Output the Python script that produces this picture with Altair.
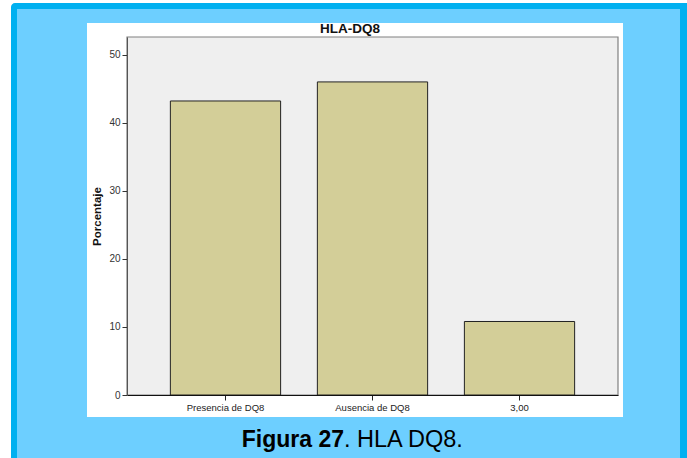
import altair as alt
import pandas as pd

# Porcentaje por grupo HLA-DQ8
categorias = ["Presencia de DQ8", "Ausencia de DQ8", "3,00"]
porcentajes = [43.2, 46.0, 10.8]
ticks_y = [0, 10, 20, 30, 40, 50]

df = pd.DataFrame({"grupo": categorias, "porcentaje": porcentajes})

W, H = 491, 358
LEFT, TOP = 127, 37
FONT = "Liberation Sans"

one = pd.DataFrame({"k": [0]})

def box(x, x2, y, y2, **kw):
    return alt.Chart(one).mark_rect(**kw).encode(
        x=alt.value(x), x2=alt.value(x2), y=alt.value(y), y2=alt.value(y2)
    )

# page frame: outer border, light-blue fill, white chart panel, plot background
marco = box(11 - LEFT, 700 - LEFT, 3 - TOP, 470 - TOP, fill="#00b0f0", cornerRadius=4)
fondo = box(17 - LEFT, 680 - LEFT, 9 - TOP, 470 - TOP, fill="#6dcfff")
panel = box(87 - LEFT, 623 - LEFT, 23 - TOP, 417 - TOP, fill="#ffffff")
area = box(0, W, 0, H, fill="#efefef", stroke="#808080", strokeWidth=1.2)

barras = alt.Chart(df).mark_bar(
    color="#d3ce98", stroke="#222222", strokeWidth=1
).encode(
    x=alt.X(
        "grupo:N",
        sort=categorias,
        title=None,
        scale=alt.Scale(paddingInner=0.25, paddingOuter=0.295),
        axis=alt.Axis(
            labelAngle=0, labelFont=FONT, labelFontSize=9.5, labelColor="#222222",
            labelPadding=2, tickSize=5, tickColor="#222222", domainColor="#111111",
            zindex=1,
        ),
    ),
    y=alt.Y(
        "porcentaje:Q",
        scale=alt.Scale(domain=[0, 52.6], nice=False),
        axis=alt.Axis(
            values=ticks_y, grid=False, title="Porcentaje",
            titleFont=FONT, titleFontSize=11.5, titleFontWeight="bold",
            titleColor="#111111", titleX=97 - LEFT, titleY=H / 2,
            titleAngle=270, titleAlign="center", titleBaseline="middle",
            labelFont=FONT, labelFontSize=10, labelColor="#333333", labelPadding=2,
            tickSize=5, tickColor="#333333", domainColor="#555555", zindex=1,
        ),
    ),
)

titulo = alt.Chart(one).mark_text(
    text="HLA-DQ8", font=FONT, fontSize=13.5, fontWeight="bold", color="#111111",
    align="center", baseline="middle",
).encode(x=alt.value(350 - LEFT), y=alt.value(28.5 - TOP))

pie_a = alt.Chart(one).mark_text(
    text="Figura 27", font=FONT, fontSize=23, fontWeight="bold", color="#000000",
    align="right", baseline="alphabetic",
).encode(x=alt.value(344 - LEFT), y=alt.value(446.5 - TOP))

pie_b = alt.Chart(one).mark_text(
    text=". HLA DQ8.", font=FONT, fontSize=23.5, color="#000000",
    align="left", baseline="alphabetic",
).encode(x=alt.value(344 - LEFT), y=alt.value(446.5 - TOP))

chart = alt.layer(marco, fondo, panel, area, barras, titulo, pie_a, pie_b).properties(
    width=W,
    height=H,
    autosize=alt.AutoSizeParams(type="none"),
    padding={"left": LEFT, "top": TOP, "right": 687 - LEFT - W, "bottom": 458 - TOP - H},
    background="#ffffff",
).configure_view(strokeWidth=0)

chart.save("out.html", embed_options={"renderer": "svg", "actions": False})
